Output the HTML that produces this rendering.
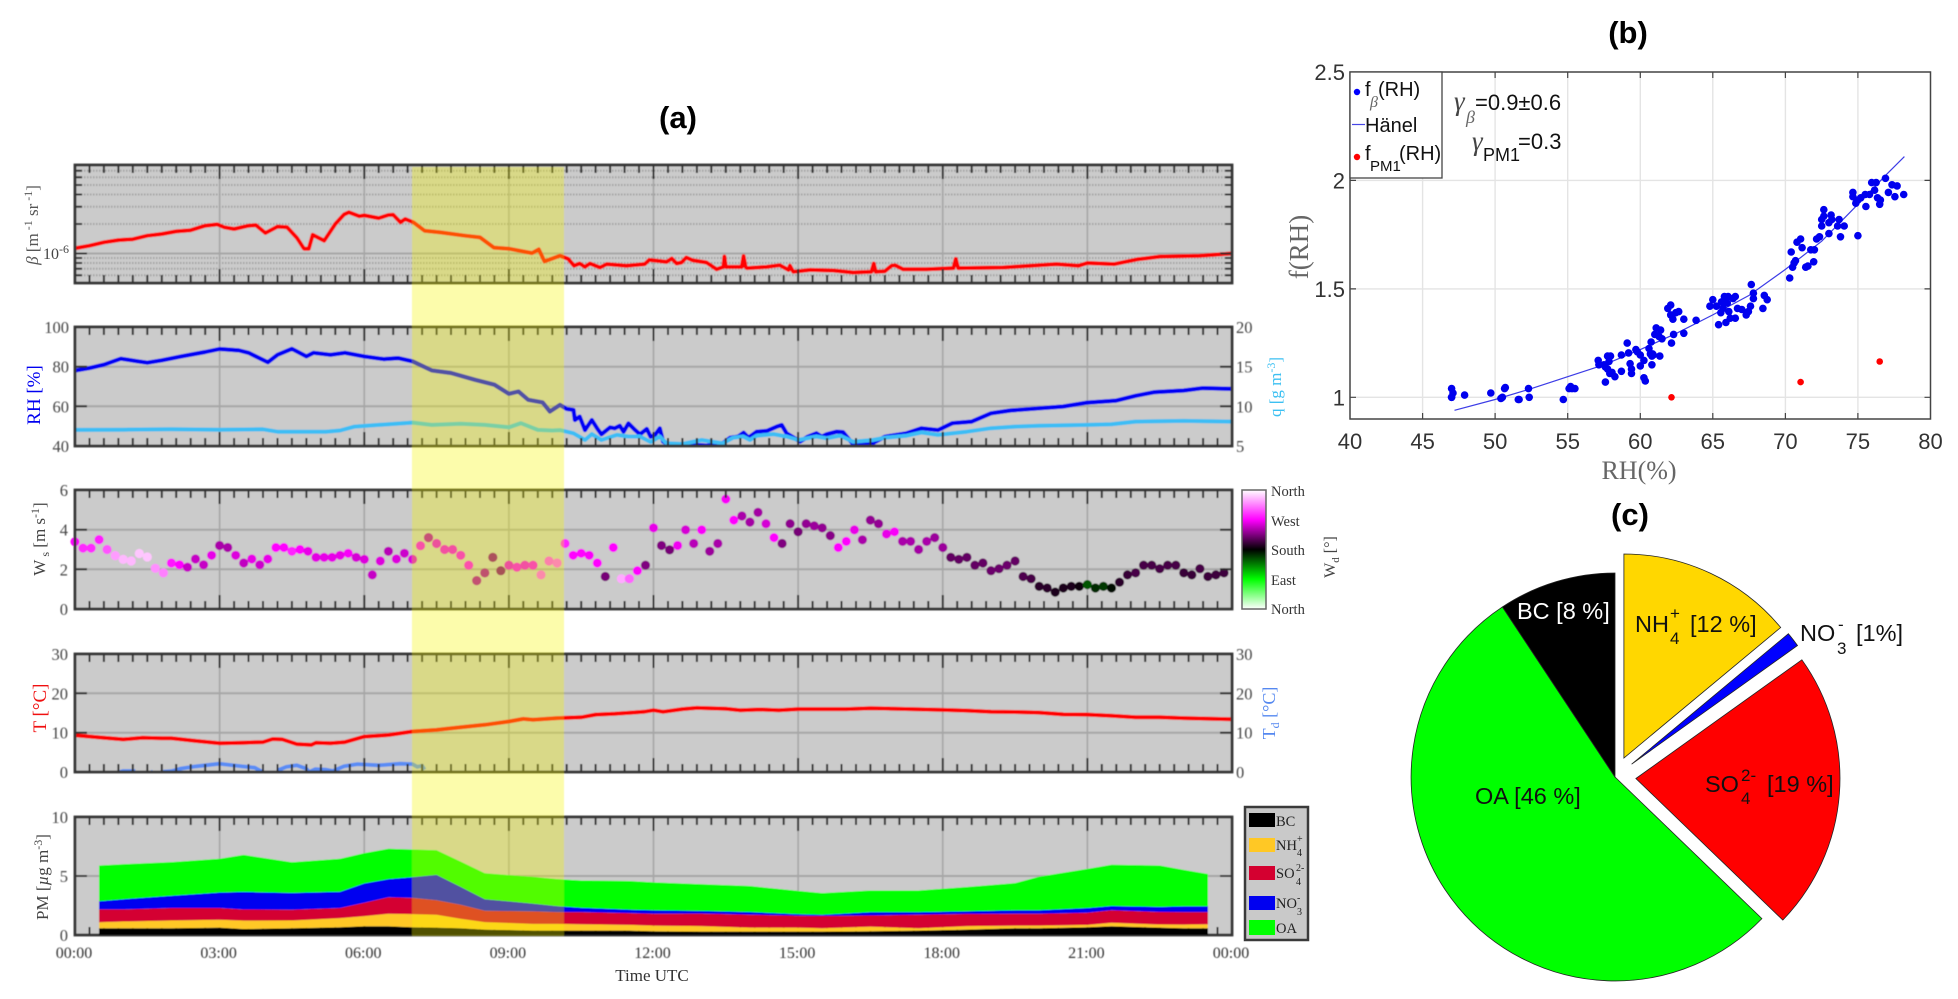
<!DOCTYPE html>
<html lang="en">
<head>
<meta charset="utf-8">
<title>Aerosol time series, hygroscopic growth and composition</title>
<style>
html,body{margin:0;padding:0;background:#fff;}
svg{display:block;}
.serif{font-family:"Liberation Serif",serif;}
.sans{font-family:"Liberation Sans",sans-serif;}
</style>
</head>
<body>
<svg id="fig" xmlns="http://www.w3.org/2000/svg" width="1958" height="999" viewBox="0 0 1958 999">
  <defs>
    <filter id="soft" filterUnits="userSpaceOnUse" x="0" y="0" width="1958" height="999"><feGaussianBlur stdDeviation="0.4"/></filter>
  </defs>
  <g id="panel-a" filter="url(#soft)">
    <g id="p-beta"></g>
    <g id="p-rh"></g>
    <g id="p-wind"></g>
    <g id="p-temp"></g>
    <g id="p-pm"></g>
    <rect x="412" y="167" width="152" height="769" fill="rgb(245,245,0)" fill-opacity="0.33"/>
  </g>

  <text class="sans" x="678" y="128" font-size="31" font-weight="bold" text-anchor="middle" fill="#000">(a)</text>
  <text class="sans" x="1628" y="43" font-size="31" font-weight="bold" text-anchor="middle" fill="#000">(b)</text>
  <text class="sans" x="1630" y="525" font-size="31" font-weight="bold" text-anchor="middle" fill="#000">(c)</text>

  <g class="serif">
    <text transform="translate(38,225) rotate(-90)" text-anchor="middle" font-size="17" fill="#555"><tspan font-style="italic">β</tspan> [m<tspan dy="-6" font-size="12"> -1</tspan><tspan dy="6"> sr</tspan><tspan dy="-6" font-size="12"> -1</tspan><tspan dy="6">]</tspan></text>
    <text transform="translate(40,395) rotate(-90)" text-anchor="middle" font-size="19" fill="#0000f0">RH [%]</text>
    <text transform="translate(1281,387) rotate(-90)" text-anchor="middle" font-size="17" fill="#3cc0f2">q [g m<tspan dy="-6" font-size="12">-3</tspan><tspan dy="6">]</tspan></text>
    <text transform="translate(45,539) rotate(-90)" text-anchor="middle" font-size="17" fill="#444">W<tspan dy="4" font-size="12"> s</tspan><tspan dy="-4"> [m s</tspan><tspan dy="-6" font-size="12">-1</tspan><tspan dy="6">]</tspan></text>
    <text transform="translate(46,708) rotate(-90)" text-anchor="middle" font-size="19" fill="#f01010">T [°C]</text>
    <text transform="translate(1275,713) rotate(-90)" text-anchor="middle" font-size="18" fill="#5588f0">T<tspan dy="4" font-size="12">d</tspan><tspan dy="-4"> [°C]</tspan></text>
    <text transform="translate(48,877) rotate(-90)" text-anchor="middle" font-size="17" fill="#444">PM [<tspan font-style="italic">µ</tspan>g m<tspan dy="-6" font-size="12">-3</tspan><tspan dy="6">]</tspan></text>
    <text x="652" y="981" text-anchor="middle" font-size="17" fill="#333">Time UTC</text>
    <text transform="translate(1335,557) rotate(-90)" text-anchor="middle" font-size="16" fill="#444">W<tspan dy="4" font-size="11">d</tspan><tspan dy="-4"> [°]</tspan></text>
    <text x="43" y="259" font-size="16" fill="#444">10<tspan dy="-6" font-size="12">-6</tspan></text>
  </g>

  <g id="colorbar">
    <defs><linearGradient id="wd-grad" x1="0" y1="0" x2="0" y2="1"></linearGradient></defs>
    <rect x="1242" y="490" width="24" height="119" fill="url(#wd-grad)" stroke="#666" stroke-width="1.5"/>
    <g class="serif" font-size="14.5" fill="#333">
      <text x="1271" y="496">North</text>
      <text x="1271" y="526">West</text>
      <text x="1271" y="555">South</text>
      <text x="1271" y="585">East</text>
      <text x="1271" y="614">North</text>
    </g>
  </g>

  <g id="pm-legend" class="serif">
    <rect x="1245" y="807" width="63" height="133" fill="#c9c9c9" stroke="#3a3a3a" stroke-width="2.5"/>
    <g><rect x="1249" y="813" width="26" height="14" fill="#000"/><text x="1276" y="826" font-size="14.5" fill="#222">BC</text></g>
    <g><rect x="1249" y="838" width="26" height="14" fill="#ffc825"/><text x="1276" y="850" font-size="14.5" fill="#222">NH<tspan x="1297" y="842" font-size="10">+</tspan><tspan x="1297" y="856" font-size="10">4</tspan></text></g>
    <g><rect x="1249" y="866" width="26" height="14" fill="#d40030"/><text x="1276" y="878" font-size="14.5" fill="#222">SO<tspan x="1296" y="871" font-size="10">2-</tspan><tspan x="1296" y="885" font-size="10">4</tspan></text></g>
    <g><rect x="1249" y="896" width="26" height="14" fill="#0000f0"/><text x="1276" y="908" font-size="14.5" fill="#222">NO<tspan x="1297" y="901" font-size="10">-</tspan><tspan x="1297" y="915" font-size="10">3</tspan></text></g>
    <g><rect x="1249" y="920" width="26" height="15" fill="#00ff00"/><text x="1276" y="933" font-size="14.5" fill="#222">OA</text></g>
  </g>

  <g id="panel-b"></g>
  <g id="b-overlay" class="sans">
    <rect x="1350" y="72" width="92" height="106" fill="#fff" stroke="#444" stroke-width="1.3"/>
    <g>
      <circle cx="1357" cy="92" r="3.2" fill="#0000ff"/>
      <text x="1365" y="96" font-size="20" fill="#111">f<tspan x="1370" y="107" font-size="16" font-style="italic" class="serif" fill="#666">β</tspan><tspan x="1378" y="96">(RH)</tspan></text>
    </g>
    <g>
      <line x1="1352" y1="124.500" x2="1365" y2="124.500" stroke="#4646e6" stroke-width="1.2"/>
      <text x="1365" y="132" font-size="20" fill="#111">Hänel</text>
    </g>
    <g>
      <circle cx="1357" cy="157" r="3.2" fill="#ff0000"/>
      <text x="1365" y="160" font-size="20" fill="#111">f<tspan x="1370" y="171" font-size="15">PM1</tspan><tspan x="1399" y="160">(RH)</tspan></text>
    </g>
    <text x="1454" y="110" font-size="22" fill="#111"><tspan class="serif" font-style="italic" fill="#444" font-size="27">γ</tspan><tspan x="1466" y="123" font-size="18" class="serif" font-style="italic" fill="#666">β</tspan><tspan x="1475" y="110">=0.9±0.6</tspan></text>
    <text x="1472" y="150" font-size="22" fill="#111"><tspan class="serif" font-style="italic" fill="#444" font-size="27">γ</tspan><tspan x="1483" y="161" font-size="18">PM1</tspan><tspan x="1518" y="149">=0.3</tspan></text>
  </g>
  <text class="serif" transform="translate(1308,247) rotate(-90)" text-anchor="middle" font-size="27" fill="#666">f(RH)</text>
  <text class="serif" x="1639" y="479" text-anchor="middle" font-size="26" fill="#666">RH(%)</text>

  <g id="panel-c"></g>
  <g class="sans">
    <text x="1517" y="619" font-size="23.500" fill="#fff">BC [8 %]</text>
    <text x="1635" y="632" font-size="23.500" fill="#111">NH<tspan x="1670" y="619" font-size="17">+</tspan><tspan x="1670" y="644" font-size="17">4</tspan><tspan x="1690" y="632">[12 %]</tspan></text>
    <text x="1800" y="641" font-size="23.500" fill="#111">NO<tspan x="1838" y="630" font-size="17">-</tspan><tspan x="1837" y="654" font-size="17">3</tspan><tspan x="1856" y="641">[1%]</tspan></text>
    <text x="1705" y="792" font-size="23.500" fill="#111">SO<tspan x="1741" y="781" font-size="17">2-</tspan><tspan x="1741" y="804" font-size="17">4</tspan><tspan x="1767" y="792">[19 %]</tspan></text>
    <text x="1475" y="804" font-size="23.500" fill="#111">OA [46 %]</text>
  </g>
</svg>

<script>
/* ---------- (a) shared time-axis labels ---------- */
const timeTickLabels = ["00:00","03:00","06:00","09:00","12:00","15:00","18:00","21:00","00:00"];

/* ---------- backscatter ---------- */
const betaHours = [
 0,.3,.6,.9,1.2,1.5,1.8,2.1,2.4,2.7,
 2.95,3.1,3.3,3.6,3.75,3.95,4.2,4.4,4.6,4.75,
 4.85,4.93,5.17,5.4,5.58,5.68,5.9,6.0,6.3,6.5,
 6.6,6.75,6.85,7.02,7.25,7.58,8.09,8.4,8.69,9.0,
 9.48,9.62,9.74,10.06,10.23,10.35,10.47,10.58,10.68,10.89,
 11.03,11.44,11.82,11.91,12.27,12.38,12.48,12.58,12.68,12.82,
 13.1,13.31,13.45,13.47,13.5,13.83,13.87,13.91,13.94,14.35,
 14.62,14.8,14.83,14.9,15.25,15.73,16.14,16.52,16.57,16.61,
 16.8,16.94,17.01,17.18,17.66,18.22,18.27,18.32,19.25,20.36,
 20.82,21,21.56,22.03,22.5,23.33,24];
const betaMicro = [
 1.13,1.2,1.3,1.37,1.4,1.52,1.58,1.68,1.73,1.92,
 1.98,1.85,1.78,1.92,1.95,1.62,1.88,1.85,1.45,1.12,
 1.12,1.55,1.35,2.0,2.5,2.63,2.4,2.45,2.3,2.47,
 2.48,2.08,2.25,2.08,1.71,1.64,1.52,1.46,1.15,1.12,
 1.01,1.1,.83,.95,.88,.75,.79,.73,.79,.72,
 .78,.75,.78,.86,.82,.89,.79,.81,.91,.85,
 .81,.69,.73,.93,.73,.73,.94,.73,.71,.73,
 .76,.68,.75,.65,.68,.67,.64,.65,.79,.65,
 .66,.75,.76,.69,.69,.71,.88,.71,.72,.78,
 .75,.8,.78,.87,.93,.95,1.0];
const betaMinorTicks = [.6,.7,.8,.9,2,3,4,5,6,7];
const betaMajorTicks = [1];

/* ---------- humidity ---------- */
const rhHours = [
 0,.3,.6,.95,1.3,1.5,1.8,2.2,2.7,3.0,
 3.4,3.6,4.0,4.2,4.5,4.8,4.95,5.3,5.6,6.0,
 6.4,6.7,7,7.4,7.8,8.3,8.7,9,9.2,9.4,
 9.7,9.85,10.06,10.2,10.34,10.37,10.47,10.58,10.72,10.83,
 10.92,11.1,11.2,11.3,11.38,11.48,11.62,11.72,11.86,11.94,
 12.03,12.13,12.2,12.34,12.68,13.1,13.44,13.59,13.75,13.87,
 13.97,14.14,14.35,14.55,14.66,14.76,15.04,15.2,15.38,15.49,
 15.59,15.8,15.93,16.14,16.55,16.8,17.25,17.56,17.9,18.2,
 18.6,19,19.4,20,20.5,21,21.6,22,22.4,23,
 23.4,24];
const rhValues = [
 78,79.3,81,84,82.7,82,83.2,85.2,87.4,88.9,
 88.2,87,82.2,86,89,85.2,87,86,87,85.2,
 83.8,84.3,82.7,78.1,76.8,73.4,70.9,66.3,67.5,63.3,
 62,57.4,60.7,58.7,58.2,53.1,54.8,48,53.1,48.9,
 45.9,49.4,48.9,50.2,47.2,51.4,48,45.9,48.6,44.7,
 45.5,48.9,42.2,40.5,40.9,40.2,41.4,44.2,44.7,46.7,
 44.2,47.2,47.6,49.7,50.6,46.4,42.2,44.7,46.4,44.7,
 45.9,47.2,47,40.9,41.4,44.7,46.4,48.9,48,51.5,
 52.3,56.5,57.9,59,59.9,61.9,62.9,65.3,67.2,68,
 69.2,68.8];
const qHours = [
 0,1,2,3,3.9,4.2,5.2,5.5,5.8,6.3,
 7,7.4,8,8.5,9,9.25,9.6,9.9,10.06,10.34,
 10.58,10.72,10.92,11.24,11.48,11.72,11.94,12.13,12.27,12.6,
 13,13.44,13.65,13.86,14,14.14,14.49,14.76,15,15.38,
 15.59,15.87,16.14,16.55,16.8,17.25,17.56,17.9,18.5,19,
 19.5,20,21,21.5,22,23,24];
const qValues = [
 7.03,7.05,7.1,7.05,7.1,6.8,6.8,6.95,7.45,7.66,
 7.95,7.66,7.8,7.66,7.36,7.87,7.03,6.95,7,6.6,
 5.76,6.5,5.76,6.4,6.2,6.2,5.5,6.2,5.34,5.25,
 5.76,5.34,6.05,6.2,5.76,6.3,6.5,6.2,5.76,6.2,
 5.97,6.3,5.54,5.76,6.05,6.3,6.7,6.4,6.8,7.24,
 7.45,7.55,7.66,7.75,8.08,8.16,8.08];
const rhTicks = [40,60,80,100];
const qTicks = [5,10,15,20];

/* ---------- wind: one reading every ten minutes ---------- */
const windSampleMinutes = 10;
const windSpeed = [
 3.39,3.07,3.07,3.5,3.0,2.69,2.5,2.42,2.8,2.62,2.05,1.82,2.32,2.23,2.11,2.52,2.23,2.71,3.2,
 3.1,2.71,2.32,2.52,2.23,2.52,3.1,3.1,2.91,3.0,2.91,2.6,2.6,2.6,2.71,2.81,2.6,2.5,
 1.72,2.42,2.91,2.52,2.81,2.5,3.19,3.6,3.3,3.0,3.0,2.71,2.21,1.43,1.82,2.6,1.93,2.21,
 2.11,2.21,2.21,1.72,2.42,2.32,3.3,2.71,2.81,2.71,2.32,1.64,3.1,1.53,1.53,1.93,2.21,4.09,
 3.2,2.98,3.2,3.99,3.3,3.99,2.91,3.3,5.54,4.48,4.69,4.38,4.87,4.3,3.6,3.3,4.3,3.89,
 4.3,4.19,4.09,3.7,3.1,3.41,3.99,3.49,4.48,4.3,3.78,3.89,3.41,3.41,3.0,3.41,3.6,3.1,
 2.6,2.5,2.6,2.21,2.32,1.93,2.03,2.21,2.42,1.64,1.53,1.14,1.06,.85,1.06,1.14,1.14,1.23,
 1.06,1.14,1.06,1.35,1.72,1.82,2.21,2.21,2.03,2.21,2.21,1.82,1.72,2.03,1.64,1.72,1.82];
const windDirection = [
 272,285,285,280,300,325,335,335,340,340,320,315,278,272,250,250,250,262,240,
 240,258,248,262,252,262,272,272,282,272,262,260,262,262,262,268,255,258,
 250,258,245,258,252,258,268,242,262,265,265,268,270,240,238,228,225,262,
 268,265,268,300,295,300,282,270,270,268,272,222,272,330,305,272,225,262,
 225,222,265,255,245,268,235,240,268,272,240,238,238,255,272,225,230,222,
 232,235,232,228,272,272,262,240,232,232,262,268,240,240,238,240,235,235,
 215,215,215,215,215,218,218,218,215,208,205,195,195,190,190,190,185,150,
 165,160,175,195,200,205,205,205,205,205,205,200,200,205,202,202,202];
const windTicks = [0,2,4,6];
const colorbarDirections = [360,315,270,225,180,135,90,45,0];

/* ---------- temperature ---------- */
const tempHours = [
 0,.5,1,1.4,1.8,2,2.5,3,3.5,3.9,
 4.1,4.3,4.6,4.9,5,5.3,5.6,6,6.5,7,
 7.5,8,8.5,9,9.3,9.5,10,10.5,10.8,11.2,
 11.8,12,12.2,12.6,12.9,13.5,13.8,14.2,14.6,15,
 15.5,16,16.5,17,18,18.5,19,19.5,20,20.5,
 21,21.5,22,22.5,23,24];
const tempValues = [
 9.34,8.8,8.3,8.7,8.6,8.6,7.9,7.3,7.45,7.6,
 8.4,8.3,7.1,6.9,7.45,7.3,7.6,9,9.4,10.3,
 10.7,11.4,12,12.85,13.5,13.3,13.7,13.9,14.6,14.8,
 15.3,15.7,15.3,16,16.3,16.1,15.7,15.9,15.7,16,
 16,16,16.2,16.1,15.8,15.6,15.3,15.25,15.1,14.65,
 14.6,14.3,13.9,13.9,13.7,13.4];
const dewHours = [
 .93,1,1.25,1.3,1.6,1.62,1.7,1.83,2,2.2,
 2.52,3,3.45,3.73,3.87,3.95,4.2,4.38,4.6,4.8,
 4.86,4.98,5.2,5.35,5.58,5.86,6.3,6.75,7,7.1,
 7.2,7.25];
const dewValues = [
 0,.25,.25,null,0,.2,null,.1,.2,.9,
 1.45,2.1,1.45,1.1,.15,null,.4,1.3,1.7,.85,
 0,.7,.6,.25,1.45,2,1.7,2.1,2,1.3,
 1.6,.6];
const tempTicks = [0,10,20,30];

/* ---------- particulate stack ---------- */
const pmHours = [.5,1,2,3,3.5,4.5,5.5,6,6.5,7, 7.5,8,8.5,9.5,10,10.5,11.5,12,13,14, 15,15.5,16.5,17.5,18.5,19.5,20,21,21.5,22.5, 23,23.5];
const pmBC  = [.57,.57,.57,.63,.51,.57,.66,.74,.74,.66, .63,.57,.46,.37,.37,.37,.37,.31,.29,.29, .29,.29,.31,.37,.46,.57,.57,.66,.74,.63, .57,.57];
const pmNH4 = [.51,.57,.66,.66,.71,.66,.77,.86,1.06,1.11, 1.09,.8,.63,.57,.57,.54,.49,.49,.46,.34, .34,.29,.4,.2,.29,.23,.23,.2,.29,.26, .31,.34];
const pmSO4 = [1.09,1.03,1.06,1.0,.94,.91,.86,1.14,1.4,1.37, 1.23,1.2,.97,1.06,1.0,1.03,1.0,1.0,1.06,1.09, 1.0,1.03,.94,1.14,1.03,1.0,1.0,1.03,1.06,1.06, 1.06,1.03];
const pmNO3 = [.69,.86,1.03,1.31,1.49,1.43,1.37,1.63,1.54,1.77, 2.14,1.51,.97,.66,.51,.37,.29,.29,.23,.23, .14,.11,.29,.23,.23,.29,.29,.4,.37,.43, .49,.49];
const pmOA  = [3.03,2.97,2.86,2.86,3.14,2.6,2.8,2.57,2.57,2.34, 2.09,2.14,2.2,2.26,2.29,2.31,2.43,2.37,2.26,2.2, 1.97,1.83,1.83,1.83,2.06,2.31,2.86,3.31,3.49,3.51, 3.09,2.74];
const pmTicks = [0,5,10];

/* ---------- (b) scatter ---------- */
const scatterRH = [
 47.0,47.1,47.0,47.0,47.9,49.7,50.4,50.5,50.7,50.65,
 51.6,51.65,52.3,52.35,54.7,55.1,55.2,55.5,55.3,57.1,
 57.15,57.6,57.5,57.75,57.95,57.85,57.6,57.75,57.9,58.05,
 58.25,58.7,58.7,59.1,59.2,59.3,59.4,59.4,59.7,59.8,
 60,60,60.25,60.25,60.35,60.6,60.7,60.8,60.8,60.85,
 60.9,60.75,61,61.1,61.3,61.4,61.35,61.5,62.15,61.9,
 62.1,62.1,62.25,62.45,62.3,62.65,63,63,63.85,64.8,
 65,65.25,65.4,65.55,65.6,65.7,65.8,65.8,65.9,66,
 66.05,66.1,66.2,66.4,66.55,66.55,66.7,67,67.3,67.45,
 67.6,67.65,67.8,67.8,68.45,68.55,68.75,70.3,70.4,70.5,
 70.6,70.7,70.8,71.05,71.15,71.4,71.55,71.75,72,71.95,
 72.15,72.35,72.5,72.5,72.65,72.65,73,73,73.15,73.2,
 73.6,73.7,73.8,74.05,74.65,74.65,74.85,75,75,75.2,
 75.55,75.5,75.8,75.95,76.15,76.25,76.35,76.5,76.55,76.9,
 77.1,77.35,77.55,77.7,78.15];
const scatterF = [
 1.04,1.02,1.0,1.0,1.01,1.02,.995,1.0,1.045,1.04,
 .99,.99,1.04,1.0,.99,1.04,1.05,1.04,1.04,1.17,
 1.15,1.07,1.15,1.19,1.19,1.165,1.14,1.13,1.11,1.115,
 1.095,1.195,1.12,1.25,1.205,1.155,1.13,1.11,1.22,1.21,
 1.195,1.145,1.17,1.09,1.075,1.225,1.2,1.19,1.15,1.2,
 1.195,1.255,1.29,1.32,1.28,1.31,1.19,1.27,1.25,1.41,
 1.425,1.38,1.36,1.39,1.29,1.395,1.295,1.36,1.355,1.42,
 1.45,1.42,1.335,1.39,1.44,1.41,1.465,1.44,1.345,1.435,
 1.465,1.395,1.365,1.455,1.465,1.365,1.41,1.405,1.38,1.395,
 1.42,1.52,1.48,1.455,1.41,1.47,1.45,1.55,1.67,1.6,
 1.62,1.63,1.715,1.73,1.69,1.6,1.605,1.68,1.68,1.625,
 1.73,1.74,1.79,1.82,1.865,1.835,1.755,1.805,1.84,1.82,
 1.79,1.82,1.74,1.79,1.945,1.925,1.895,1.91,1.745,1.92,
 1.88,1.935,1.935,1.99,1.955,1.99,1.92,1.89,1.91,2.01,
 1.945,1.98,1.925,1.975,1.935];
const pm1RH = [62.15,71.05,76.5];
const pm1F = [1.0,1.07,1.165];
const hanelRH = [47.2,50,52.5,55,57.5,60,62.5,65,67.5,70,72.5,75,77,78.2];
const hanelF = [.94,.99,1.04,1.095,1.15,1.22,1.295,1.38,1.47,1.59,1.72,1.89,2.03,2.11];
const scatterXTicks = [40,45,50,55,60,65,70,75,80];
const scatterYTicks = [1,1.5,2,2.5];
const scatterYLabels = ["1","1.5","2","2.5"];

/* ---------- (c) pie ---------- */
const pieNames = ["NH4","NO3","SO4","OA","BC"];
const piePercent = [12,1,19,46,8];
const pieExploded = [1,1,1,0,0];
const pieColors = ["#ffd700","#0000ff","#ff0000","#00ff00","#000000"];

/* ---------- helpers ---------- */
const NS = "http://www.w3.org/2000/svg";
function mk(tag, attrs, parent){
  const e = document.createElementNS(NS, tag);
  for (const k in attrs) e.setAttribute(k, attrs[k]);
  parent.appendChild(e);
  return e;
}
const L = 75, R = 1232;
const xT = h => L + h / 24 * (R - L);
const linY = (v, lo, hi, top, bot) => bot - (v - lo) / (hi - lo) * (bot - top);
function linePath(xs, ys, fx, fy){
  let d = "", pen = false;
  for (let i = 0; i < xs.length; i++){
    if (ys[i] === null){ pen = false; continue; }
    d += (pen ? "L" : "M") + fx(xs[i]).toFixed(1) + " " + fy(ys[i]).toFixed(1);
    pen = true;
  }
  return d;
}
function dirColor(d){
  let r, g, b;
  if (d <= 90){ const t = d / 90; r = b = 255 * (1 - t); g = 255; }
  else if (d <= 180){ r = b = 0; g = 255 * (180 - d) / 90; }
  else if (d <= 270){ r = b = 255 * (d - 180) / 90; g = 0; }
  else { r = b = 255; g = 255 * (d - 270) / 90; }
  return "rgb(" + Math.round(r) + "," + Math.round(g) + "," + Math.round(b) + ")";
}
function clipFor(id, top, bot){
  const defs = document.querySelector("#fig defs");
  const c = mk("clipPath", {id: id}, defs);
  mk("rect", {x: L, y: top, width: R - L, height: bot - top}, c);
  return "url(#" + id + ")";
}
function panelBack(g, top, bot, gridYs){
  const bg = mk("rect", {x: L, y: top, width: R - L, height: bot - top, fill: "#cbcbcb"}, g);
  
  
  let d = "";
  for (let h = 3; h < 24; h += 3) d += "M" + xT(h) + " " + top + "V" + bot;
  const gv = mk("path", {d: d, stroke: "#a6a6a6", "stroke-width": 1.6, fill: "none"}, g);
  
  
  let dh = "";
  gridYs.forEach(y => { dh += "M" + L + " " + y.toFixed(1) + "H" + R; });
  const gh = mk("path", {d: dh, stroke: "#a6a6a6", "stroke-width": 2, fill: "none"}, g);
  
  
}
function panelFront(g, top, bot, majorYs, minorYs){
  let d = "";
  for (let i = 1; i < 80; i++){
    const h = i * 0.3, maj = i % 10 === 0, len = maj ? 14 : 8;
    d += "M" + xT(h).toFixed(1) + " " + top + "v" + len + "M" + xT(h).toFixed(1) + " " + bot + "v" + (-len);
  }
  majorYs.forEach(y => { d += "M" + L + " " + y.toFixed(1) + "h12M" + R + " " + y.toFixed(1) + "h-12"; });
  (minorYs || []).forEach(y => { d += "M" + L + " " + y.toFixed(1) + "h7M" + R + " " + y.toFixed(1) + "h-7"; });
  const t = mk("path", {d: d, stroke: "#2b2b2b", "stroke-width": 2, fill: "none"}, g);
  
  
  const f = mk("rect", {x: L, y: top, width: R - L, height: bot - top, fill: "none", stroke: "#363636", "stroke-width": 2.8}, g);
  
  
}
function tickText(g, x, y, str, anchor){
  const t = mk("text", {x: x, y: y + 6, "text-anchor": anchor, "font-size": 16.5, fill: "#444", "font-family": '"Liberation Serif",serif'}, g);
  t.textContent = str;
  return t;
}

/* ---------- beta panel ---------- */
(function(){
  const g = document.getElementById("p-beta"), top = 165, bot = 283;
  const yB = v => bot - (Math.log10(v) - Math.log10(0.5)) / (Math.log10(8) - Math.log10(0.5)) * (bot - top);
  panelBack(g, top, bot, betaMajorTicks.map(yB));
  let dot = "";
  betaMinorTicks.forEach(v => { dot += "M" + L + " " + yB(v).toFixed(1) + "H" + R; });
  const dl = mk("path", {d: dot, stroke: "#a2a2a2", "stroke-width": 2, "stroke-dasharray": "1.5 1.5", fill: "none"}, g);
  
  
  const line = mk("path", {d: linePath(betaHours, betaMicro, xT, yB), stroke: "#ff0000", "stroke-width": 4, fill: "none", "stroke-linejoin": "round", "clip-path": clipFor("c1", top, bot)}, g);
  
  
  panelFront(g, top, bot, betaMajorTicks.map(yB), betaMinorTicks.map(yB));
})();

/* ---------- RH / q panel ---------- */
(function(){
  const g = document.getElementById("p-rh"), top = 327, bot = 446;
  const yR = v => linY(v, 40, 100, top, bot);
  const yQ = v => linY(v, 5, 20, top, bot);
  const inner = rhTicks.slice(1, -1).map(yR);
  panelBack(g, top, bot, inner);
  const clip = clipFor("c2", top, bot);
  const rh = mk("path", {d: linePath(rhHours, rhValues, xT, yR), stroke: "#0000f5", "stroke-width": 4.2, fill: "none", "stroke-linejoin": "round", "clip-path": clip}, g);
  
  
  const q = mk("path", {d: linePath(qHours, qValues, xT, yQ), stroke: "#3ebdf5", "stroke-width": 4, fill: "none", "stroke-linejoin": "round", "clip-path": clip}, g);
  
  
  panelFront(g, top, bot, inner);
  rhTicks.forEach(v => {
    const t = tickText(g, 69, yR(v), String(v), "end");
    
    
  });
  qTicks.forEach(v => {
    const t = tickText(g, 1236, yQ(v), String(v), "start");
    
    
  });
})();

/* ---------- wind panel ---------- */
(function(){
  const g = document.getElementById("p-wind"), top = 490, bot = 609;
  const yW = v => linY(v, 0, 6, top, bot);
  const inner = windTicks.slice(1, -1).map(yW);
  panelBack(g, top, bot, inner);
  windSpeed.forEach((s, i) => {
    const h = i * windSampleMinutes / 60;
    const c = mk("circle", {cx: xT(h).toFixed(1), cy: yW(s).toFixed(1), r: 4.6, fill: dirColor(windDirection[i])}, g);
    
    
  });
  panelFront(g, top, bot, inner);
  windTicks.forEach(v => {
    const t = tickText(g, 68, yW(v), String(v), "end");
    
    
  });
  const grad = document.getElementById("wd-grad");
  colorbarDirections.forEach((d, i) => {
    const st = mk("stop", {offset: i / (colorbarDirections.length - 1), "stop-color": dirColor(d)}, grad);
    
    
  });
})();

/* ---------- temperature panel ---------- */
(function(){
  const g = document.getElementById("p-temp"), top = 654, bot = 772;
  const yT = v => linY(v, 0, 30, top, bot);
  const inner = tempTicks.slice(1, -1).map(yT);
  panelBack(g, top, bot, inner);
  const clip = clipFor("c4", top, bot);
  const td = mk("path", {d: linePath(dewHours, dewValues, xT, yT), stroke: "#5a8cf5", "stroke-width": 3.8, fill: "none", "stroke-linejoin": "round", "clip-path": clip}, g);
  
  
  const tl = mk("path", {d: linePath(tempHours, tempValues, xT, yT), stroke: "#ff0000", "stroke-width": 4, fill: "none", "stroke-linejoin": "round", "clip-path": clip}, g);
  
  
  panelFront(g, top, bot, inner);
  tempTicks.forEach(v => {
    const a = tickText(g, 68, yT(v), String(v), "end");
    
    
    const b = tickText(g, 1236, yT(v), String(v), "start");
    
    
  });
})();

/* ---------- PM panel ---------- */
(function(){
  const g = document.getElementById("p-pm"), top = 817, bot = 935;
  const yP = v => linY(v, 0, 10, top, bot);
  const inner = pmTicks.slice(1, -1).map(yP);
  panelBack(g, top, bot, inner);
  panelFront(g, top, bot, inner);
  const layers = [
    {v: pmBC, c: "#000000"},
    {v: pmNH4, c: "#ffc825"},
    {v: pmSO4, c: "#d40030"},
    {v: pmNO3, c: "#0000f0"},
    {v: pmOA, c: "#00ff00"}
  ];
  const base = pmHours.map(() => 0);
  layers.forEach(l => {
    const upper = base.map((b, i) => b + l.v[i]);
    let d = "";
    pmHours.forEach((h, i) => { d += (i ? "L" : "M") + xT(h).toFixed(1) + " " + yP(upper[i]).toFixed(1); });
    for (let i = pmHours.length - 1; i >= 0; i--) d += "L" + xT(pmHours[i]).toFixed(1) + " " + yP(base[i]).toFixed(1);
    const p = mk("path", {d: d + "Z", fill: l.c}, g);
    
    
    upper.forEach((u, i) => { base[i] = u; });
  });
  pmTicks.forEach(v => {
    const t = tickText(g, 68, yP(v), String(v), "end");
    
    
  });
  timeTickLabels.forEach((s, i) => {
    const t = mk("text", {x: xT(i * 3) - 1, y: 958, "text-anchor": "middle", "font-size": 16, fill: "#333", "font-family": '"Liberation Serif",serif'}, g);
    t.textContent = s;
    
    
  });
})();

/* ---------- scatter ---------- */
(function(){
  const g = document.getElementById("panel-b");
  const l = 1350, r = 1930.5, top = 72, bot = 419;
  const xS = v => l + (v - 40) / 40 * (r - l);
  const yS = v => bot - (v - 0.9) / 1.6 * (bot - top);
  let d = "";
  scatterXTicks.slice(1, -1).forEach(v => { d += "M" + xS(v).toFixed(1) + " " + top + "V" + bot; });
  scatterYTicks.slice(0, -1).forEach(v => { d += "M" + l + " " + yS(v).toFixed(1) + "H" + r; });
  const grid = mk("path", {d: d, stroke: "#e4e4e4", "stroke-width": 1.4, fill: "none"}, g);
  
  
  const curve = mk("path", {d: linePath(hanelRH, hanelF, xS, yS), stroke: "#3c3ce6", "stroke-width": 1.2, fill: "none"}, g);
  
  
  scatterRH.forEach((v, i) => {
    const c = mk("circle", {cx: xS(v).toFixed(1), cy: yS(scatterF[i]).toFixed(1), r: 3.8, fill: "#0000ee"}, g);
    
    
  });
  pm1RH.forEach((v, i) => {
    const c = mk("circle", {cx: xS(v).toFixed(1), cy: yS(pm1F[i]).toFixed(1), r: 3.3, fill: "#ff0000"}, g);
    
    
  });
  let td = "";
  scatterXTicks.slice(1, -1).forEach(v => { td += "M" + xS(v).toFixed(1) + " " + bot + "v-6M" + xS(v).toFixed(1) + " " + top + "v6"; });
  scatterYTicks.slice(0, -1).forEach(v => { td += "M" + l + " " + yS(v).toFixed(1) + "h6M" + r + " " + yS(v).toFixed(1) + "h-6"; });
  const ticks = mk("path", {d: td, stroke: "#444", "stroke-width": 1.2, fill: "none"}, g);
  
  
  const box = mk("rect", {x: l, y: top, width: r - l, height: bot - top, fill: "none", stroke: "#444", "stroke-width": 1.5}, g);
  
  
  scatterXTicks.forEach(v => {
    const t = mk("text", {x: xS(v).toFixed(1), y: 449, "text-anchor": "middle", "font-size": 22, fill: "#333", "font-family": '"Liberation Sans",sans-serif'}, g);
    t.textContent = String(v);
    
    
  });
  scatterYTicks.forEach((v, i) => {
    const t = mk("text", {x: 1345, y: yS(v) + 8, "text-anchor": "end", "font-size": 22, fill: "#333", "font-family": '"Liberation Sans",sans-serif'}, g);
    t.textContent = scatterYLabels[i];
    
    
  });
})();

/* ---------- pie ---------- */
(function(){
  const g = document.getElementById("panel-c");
  const cx = 1615, cy = 777, rad = 204, gap = 21;
  const total = piePercent.reduce((a, b) => a + b, 0);
  let start = 0;
  piePercent.forEach((p, i) => {
    const span = p / total * 2 * Math.PI, end = start + span, mid = start + span / 2;
    const ox = cx + pieExploded[i] * gap * Math.sin(mid), oy = cy - pieExploded[i] * gap * Math.cos(mid);
    const x1 = ox + rad * Math.sin(start), y1 = oy - rad * Math.cos(start);
    const x2 = ox + rad * Math.sin(end), y2 = oy - rad * Math.cos(end);
    const d = "M" + ox.toFixed(1) + " " + oy.toFixed(1) + "L" + x1.toFixed(1) + " " + y1.toFixed(1) +
      "A" + rad + " " + rad + " 0 " + (span > Math.PI ? 1 : 0) + " 1 " + x2.toFixed(1) + " " + y2.toFixed(1) + "Z";
    const s = mk("path", {d: d, fill: pieColors[i], stroke: "#222", "stroke-width": 0.8, "data-series": pieNames[i]}, g);
    
    
    start = end;
  });
})();
</script>
</body>
</html>
